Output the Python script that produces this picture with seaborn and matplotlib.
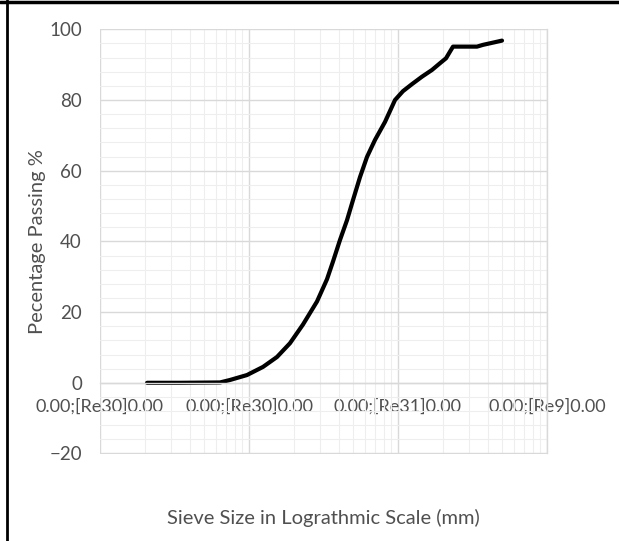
import matplotlib
matplotlib.use("Agg")
import matplotlib.pyplot as plt
from matplotlib.lines import Line2D
from matplotlib.ticker import FixedLocator, LogLocator, NullFormatter, MultipleLocator
import seaborn as sns
import pandas as pd

# Particle size distribution (sieve size in mm, percentage passing)
sieve_mm = [0.0207, 0.0344, 0.0639, 0.0746, 0.0970, 0.1242, 0.1541, 0.1884,
            0.2304, 0.2860, 0.3338, 0.3662, 0.4080, 0.4547, 0.4989, 0.5559,
            0.6194, 0.7007, 0.8181, 0.955, 1.080, 1.242, 1.449, 1.691,
            1.913, 2.100, 2.234, 2.340, 3.390, 3.720, 4.989]
passing = [0.0, 0.0, 0.1, 0.8, 2.2, 4.5, 7.3, 11.2,
           16.5, 23.0, 29.3, 34.3, 40.4, 46.0, 51.7, 58.2,
           63.9, 68.7, 73.8, 80.0, 82.5, 84.5, 86.6, 88.5,
           90.4, 91.8, 93.7, 95.1, 95.1, 95.6, 96.8]

x_ticks = [0.01, 0.1, 1, 10]
x_tick_labels = ["0.00;[Re30]0.00", "0.00;[Re30]0.00", "0.00;[Re31]0.00", "0.00;[Re9]0.00"]
y_ticks = [-20, 0, 20, 40, 60, 80, 100]

sns.set_style("white")
plt.rcParams["font.family"] = ["Lato", "DejaVu Sans"]

TEXT = "#505050"
MAJOR = "#d9d9d9"
MINOR = "#eeeeee"

fig = plt.figure(figsize=(6.19, 5.41), dpi=100)
ax = fig.add_axes([100 / 619, 1 - 453.5 / 541, 447 / 619, 424.2 / 541])

df = pd.DataFrame({"size": sieve_mm, "passing": passing})
sns.lineplot(data=df, x="size", y="passing", sort=False, color="black",
             linewidth=3.0, ax=ax, solid_capstyle="round", solid_joinstyle="round")

ax.set_xscale("log")
ax.set_xlim(0.01, 10)
ax.set_ylim(-20, 100)

ax.xaxis.set_major_locator(FixedLocator(x_ticks))
ax.set_xticklabels(x_tick_labels)
ax.xaxis.set_minor_locator(LogLocator(base=10, subs=range(2, 10)))
ax.xaxis.set_minor_formatter(NullFormatter())
ax.set_yticks(y_ticks)
ax.yaxis.set_minor_locator(MultipleLocator(4))

ax.grid(which="major", color=MAJOR, linewidth=1.0)
ax.grid(which="minor", color=MINOR, linewidth=0.8)
ax.set_axisbelow(True)

for side in ["top", "left"]:
    ax.spines[side].set_visible(False)
ax.spines["right"].set_color(MAJOR)
ax.spines["right"].set_linewidth(1.0)
ax.spines["bottom"].set_position(("data", 0))
ax.spines["bottom"].set_color(MAJOR)
ax.spines["bottom"].set_linewidth(1.0)

ax.tick_params(axis="x", which="both", length=0, pad=11, labelsize=13, labelcolor=TEXT)
ax.tick_params(axis="y", which="major", length=5, color=MAJOR, width=1.0,
               pad=8, labelsize=13.5, labelcolor=TEXT)
ax.tick_params(axis="y", which="minor", length=0)

ax.set_xlabel("Sieve Size in Lograthmic Scale (mm)", fontsize=14.5, color=TEXT)
ax.set_ylabel("Pecentage Passing %", fontsize=14.5, color=TEXT)
ax.xaxis.set_label_coords(0.5, -0.13)
ax.yaxis.set_label_coords(-0.12, 0.5)

# Black frame strokes along the top and left of the figure
fig.add_artist(Line2D([0, 1], [1 - 1.5 / 541, 1 - 1.5 / 541], color="black",
                      linewidth=2.5, transform=fig.transFigure))
fig.add_artist(Line2D([7 / 619, 7 / 619], [0, 1], color="black",
                      linewidth=2.0, transform=fig.transFigure))

fig.savefig("out.png", dpi=100, facecolor="white")
